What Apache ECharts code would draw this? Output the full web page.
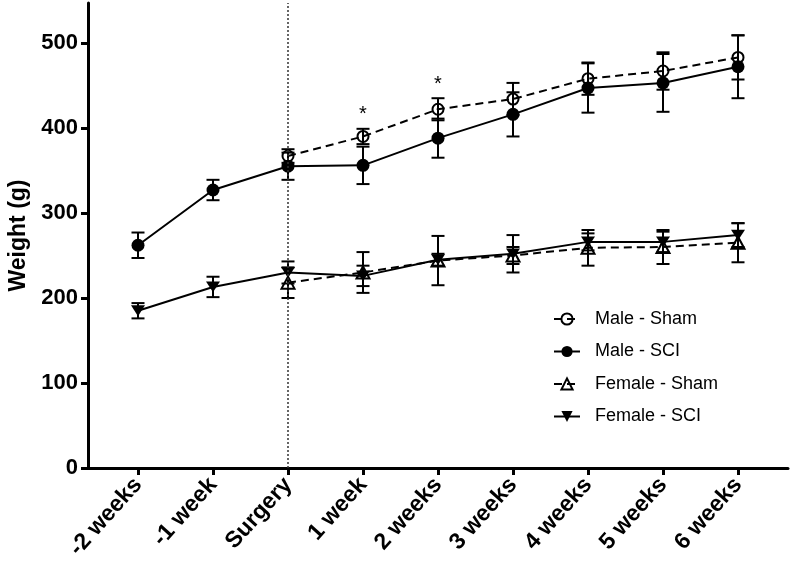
<!DOCTYPE html>
<html><head><meta charset="utf-8">
<script src="https://cdn.jsdelivr.net/npm/echarts@6/dist/echarts.min.js"></script>
<style>html,body{margin:0;padding:0;background:#fff}#c{width:792px;height:564px}</style>
</head><body><div id="c"></div>
<script>
const categories = ['-2 weeks','-1 week','Surgery','1 week','2 weeks','3 weeks','4 weeks','5 weeks','6 weeks'];
const maleShamMean   = [null, null, 367, 390, 422, 434, 458, 467, 483];
const maleShamErr    = [null, null,   8,   9,  13,  19,  19,  22,  26];
const maleSciMean    = [262, 327, 355, 356, 388, 416, 447, 453, 472];
const maleSciErr     = [ 15,  12,  16,  22,  23,  26,  29,  34,  37];
const femaleShamMean = [null, null, 218, 230, 244, 250, 259, 260, 265];
const femaleShamErr  = [null, null,  18,  24,  29,  10,  21,  20,  23];
const femaleSciMean  = [185, 213, 230, 226, 245, 252, 266, 266, 274];
const femaleSciErr   = [  9,  12,  13,  12,   7,  22,  10,  12,  14];
const significantIdx = [3, 4];           // '*' above Male - Sham
const yTicks = [0, 100, 200, 300, 400, 500];
const xTicks = categories.map((c, i) => i);
const surgeryIdx = categories.indexOf('Surgery');

const FONT = '"Liberation Sans", Arial, Helvetica, sans-serif';

function pts(mean){ const o=[]; mean.forEach((v,i)=>{ if(v!=null) o.push([i,v]); }); return o; }
function errs(mean, err){ const o=[]; mean.forEach((v,i)=>{ if(v!=null) o.push([i, v-err[i], v+err[i]]); }); return o; }

function errRender(params, api){
  const x = api.value(0), lo = api.value(1), hi = api.value(2);
  const p1 = api.coord([x, hi]), p2 = api.coord([x, lo]);
  const w = 6.5;
  const st = {stroke:'#000', lineWidth:2};
  return {type:'group', children:[
    {type:'line', shape:{x1:p1[0], y1:p1[1], x2:p2[0], y2:p2[1]}, style:st},
    {type:'line', shape:{x1:p1[0]-w, y1:p1[1], x2:p1[0]+w, y2:p1[1]}, style:st},
    {type:'line', shape:{x1:p2[0]-w, y1:p2[1], x2:p2[0]+w, y2:p2[1]}, style:st}
  ]};
}
function errSeries(mean, err){
  return {type:'custom', renderItem:errRender, data:errs(mean, err), encode:{x:0, y:[1,2]}, z:3, silent:true};
}

const invTri = 'path://M0,0 L10,0 L5,9 Z';
const base = {type:'line', symbolKeepAspect:true, z:4, lineStyle:{color:'#000', width:2}};

const option = {
  animation:false,
  backgroundColor:'#fff',
  grid:{left:88, right:4, top:3, bottom:96, containLabel:false, outerBoundsMode:'none'},
  xAxis:{
    type:'value', min:-2/3, max:8+2/3,
    axisLine:{show:true, onZero:false, lineStyle:{color:'#000', width:3}},
    axisTick:{show:true, length:7, lineStyle:{color:'#000', width:3}, customValues:xTicks},
    axisLabel:{show:true, customValues:xTicks, rotate:48, margin:13, color:'#000', fontWeight:'bold', fontSize:23, fontFamily:FONT,
      formatter:v=>categories[Math.round(v)]},
    splitLine:{show:false}
  },
  yAxis:{
    type:'value', min:0, max:547,
    name:'Weight (g)', nameLocation:'middle', nameGap:58,
    nameTextStyle:{color:'#000', fontWeight:'bold', fontSize:23, fontFamily:FONT},
    axisLine:{show:true, onZero:false, lineStyle:{color:'#000', width:3}},
    axisTick:{show:true, length:7, lineStyle:{color:'#000', width:3}, customValues:yTicks},
    axisLabel:{show:true, customValues:yTicks, margin:10, color:'#000', fontWeight:'bold', fontSize:22, fontFamily:FONT},
    splitLine:{show:false}
  },
  legend:{
    orient:'vertical', left:553, top:309, padding:0, itemWidth:26, itemHeight:14, itemGap:12.5,
    textStyle:{color:'#000', fontSize:18, fontFamily:FONT, lineHeight:20, padding:[0,0,0,10]},
    data:['Male - Sham','Male - SCI','Female - Sham','Female - SCI']
  },
  series:[
    Object.assign({}, base, {name:'Male - Sham', data:pts(maleShamMean), symbol:'circle', symbolSize:11,
      lineStyle:{color:'#000', width:2, type:[8,5]},
      itemStyle:{color:'rgba(255,255,255,0)', borderColor:'#000', borderWidth:2}}),
    Object.assign({}, base, {name:'Male - SCI', data:pts(maleSciMean), symbol:'circle', symbolSize:13,
      itemStyle:{color:'#000', borderColor:'#000', borderWidth:0},
      markLine:{silent:true, symbol:'none', label:{show:false}, lineStyle:{type:[2,2], color:'#333', width:1.5},
        data:[{xAxis:surgeryIdx}]}}),
    Object.assign({}, base, {name:'Female - Sham', data:pts(femaleShamMean), symbol:'triangle', symbolSize:[13,12],
      lineStyle:{color:'#000', width:2, type:[8,5]},
      itemStyle:{color:'rgba(255,255,255,0)', borderColor:'#000', borderWidth:2}}),
    Object.assign({}, base, {name:'Female - SCI', data:pts(femaleSciMean), symbol:invTri, symbolSize:[14,12],
      itemStyle:{color:'#000', borderColor:'#000', borderWidth:0}}),
    errSeries(maleShamMean, maleShamErr),
    errSeries(maleSciMean, maleSciErr),
    errSeries(femaleShamMean, femaleShamErr),
    errSeries(femaleSciMean, femaleSciErr),
    {type:'custom', silent:true, z:5,
      data:significantIdx.map(i=>[i, maleShamMean[i]+maleShamErr[i]]),
      encode:{x:0, y:1},
      renderItem:(params, api)=>{
        const p = api.coord([api.value(0), api.value(1)]);
        return {type:'text', x:p[0], y:p[1]-14, style:{text:'*', fill:'#000', font:'20px '+FONT, align:'center', verticalAlign:'middle'}};
      }}
  ]
};
const chart = echarts.init(document.getElementById('c'), null, {renderer:'canvas'});
chart.setOption(option);
</script></body></html>
